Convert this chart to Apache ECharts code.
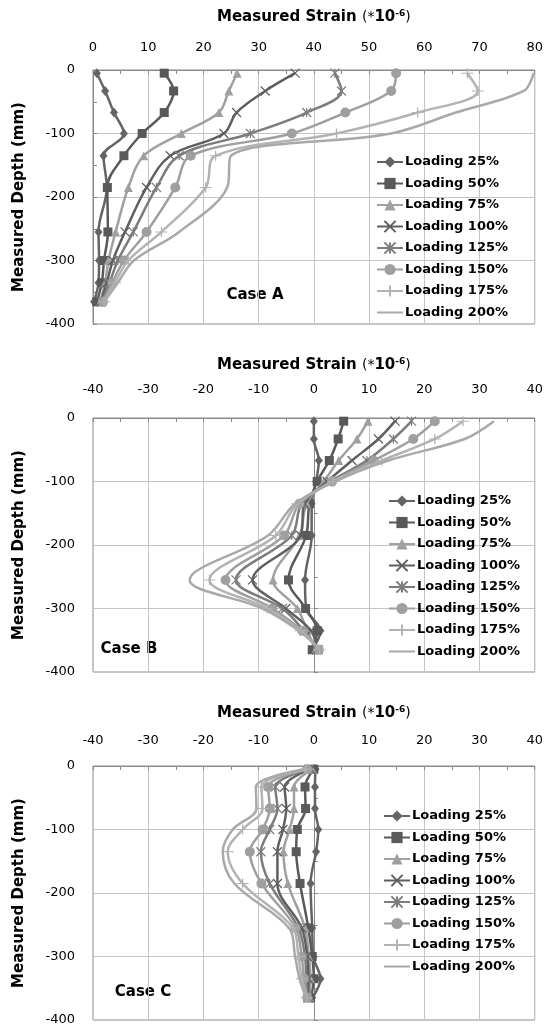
<!DOCTYPE html>
<html>
<head>
<meta charset="utf-8">
<script src="https://cdn.jsdelivr.net/npm/echarts@6.0.0/dist/echarts.min.js"></script>
<style>
html, body { margin: 0; padding: 0; background: #fff; }
#chart { width: 546px; height: 1027px; }
</style>
</head>
<body>
<div id="chart"></div>
<script>
var myChart = echarts.init(document.getElementById('chart'));

// depths of the gauges (mm)
var depths = [-5, -33, -67, -100, -135, -185, -255, -300, -335, -365];
var loadings = ['Loading 25%', 'Loading 50%', 'Loading 75%', 'Loading 100%',
                'Loading 125%', 'Loading 150%', 'Loading 175%', 'Loading 200%'];

// Case A strains (*10^-6)
var a25  = [0.7, 2.2, 3.8, 5.6, 1.9, 2.5, 1.0, 1.1, 1.0, 0.2];
var a50  = [12.9, 14.6, 12.9, 8.9, 5.6, 2.6, 2.7, 2.0, 1.6, 0.7];
var a75  = [26.1, 24.6, 22.8, 16.0, 9.2, 6.4, 4.1, 2.8, 2.2, 1.3];
var a100 = [36.6, 31.2, 26.0, 23.7, 14.0, 9.7, 5.8, 3.6, 2.5, 1.4];
var a125 = [43.8, 45.0, 38.7, 28.5, 15.6, 11.5, 7.3, 4.5, 3.0, 1.6];
var a150 = [54.9, 54.0, 45.7, 36.0, 17.7, 14.9, 9.7, 5.6, 3.5, 1.8];
var a175 = [67.8, 69.7, 58.8, 44.1, 22.2, 20.4, 12.4, 6.4, 4.0, 2.0];
var a200 = [79.8, 78.0, 65.7, 54.0, 25.0, 24.3, 15.6, 7.4, 4.5, 2.0];

// Case B
var b25  = [0.0, 0.0, 0.9, 0.4, -0.4, -0.4, -1.6, -1.4, 1.2, -0.3];
var b50  = [5.4, 4.4, 2.8, 0.6, -0.8, -1.4, -4.6, -1.5, 0.6, -0.3];
var b75  = [9.8, 7.8, 4.5, 1.8, -1.3, -2.6, -7.4, -3.0, -1.2, 0.3];
var b100 = [14.7, 11.7, 6.9, 2.4, -1.7, -2.4, -11.1, -5.1, -0.5, 0.5];
var b125 = [17.7, 14.4, 9.6, 3.0, -2.2, -4.0, -14.1, -5.7, -1.8, 0.8];
var b150 = [21.9, 18.0, 10.8, 3.3, -2.6, -5.4, -16.0, -7.5, -2.1, 0.9];
var b175 = [27.0, 21.9, 12.3, 3.5, -3.0, -6.9, -18.9, -8.4, -2.4, 1.0];
var b200 = [32.6, 27.3, 13.5, 3.8, -3.4, -8.3, -22.5, -9.3, -2.7, 1.1];

// Case C
var c25  = [0.3, 0.2, 0.2, 0.8, 0.4, -0.6, -0.3, -0.1, 1.2, -0.3];
var c50  = [0.0, -1.6, -1.5, -3.0, -3.2, -2.5, -1.0, -0.3, 0.0, -0.6];
var c75  = [-0.3, -3.6, -3.6, -4.4, -5.5, -4.7, -1.6, -0.9, -0.6, -0.8];
var c100 = [-0.6, -5.3, -5.0, -5.6, -6.6, -6.6, -2.2, -1.2, -1.0, -1.0];
var c125 = [-0.9, -7.0, -6.6, -8.0, -9.6, -8.0, -2.8, -1.6, -1.4, -1.1];
var c150 = [-1.2, -8.3, -8.0, -9.3, -11.6, -9.5, -3.3, -2.2, -1.8, -1.2];
var c175 = [-1.5, -9.5, -9.3, -12.9, -15.6, -12.9, -3.8, -2.8, -2.2, -1.3];
var c200 = [-1.8, -10.5, -10.4, -14.7, -16.5, -14.4, -4.5, -3.4, -2.6, -1.4];

var caseA = [a25, a50, a75, a100, a125, a150, a175, a200];
var caseB = [b25, b50, b75, b100, b125, b150, b175, b200];
var caseC = [c25, c50, c75, c100, c125, c150, c175, c200];

var font = 'DejaVu Sans';
var colors = ['#646464', '#595959', '#a0a0a0', '#5f5f5f', '#7c7c7c', '#9f9f9f', '#b3b3b3', '#a9a9a9'];
var symbols = ['diamond', 'rect', 'triangle',
    'path://M0,0L10,10M10,0L0,10',
    'path://M0,0L10,10M10,0L0,10M5,0L5,10',
    'circle',
    'path://M0,5L10,5M5,0L5,10',
    'circle'];   // 200%: marker hidden
var sizes = [[8, 10], 9, 9, 9, 9, 10, [12, 10], 4];
var strokeOnly = [false, false, false, true, true, false, true, false];

var tops = [70, 418, 766];
var xRange = [[0, 80], [-40, 40], [-40, 40]];
var labelMargin = [16, 22, 19];
var legendLeft = [371, 383, 378];
var legendTop = [150, 489, 804];

function pairs(xs) {
    return xs.map(function (x, i) { return [x, depths[i]]; });
}

var grids = [], xAxes = [], yAxes = [], legends = [], series = [];
[caseA, caseB, caseC].forEach(function (cs, k) {
    grids.push({left: 93, width: 444, top: tops[k], height: 254,
        show: true, borderColor: '#8a8a8a', borderWidth: 1, backgroundColor: '#fff'});
    xAxes.push({
        type: 'value', gridIndex: k, position: 'top',
        min: xRange[k][0], max: xRange[k][1], interval: 10,
        name: '{b|Measured Strain }{n|(*}{b|10}{s|-6}{n|)}',
        nameLocation: 'middle', nameGap: 44,
        nameTextStyle: {rich: {
            b: {fontSize: 15, fontWeight: 'bold', fontFamily: font, color: '#000'},
            n: {fontSize: 14, fontFamily: font, color: '#000'},
            s: {fontSize: 9, fontWeight: 'bold', fontFamily: font, color: '#000', padding: [0, 0, 8, 0]}
        }},
        axisLine: {show: true, lineStyle: {color: '#8a8a8a'}},
        axisTick: {show: true, inside: true, length: 4, lineStyle: {color: '#8a8a8a'}},
        minorTick: {show: true, splitNumber: 2, length: 4, lineStyle: {color: '#8a8a8a'}},
        axisLabel: {fontSize: 13, color: '#000', fontFamily: font, margin: labelMargin[k]},
        splitLine: {show: true, lineStyle: {color: '#c4c4c4', width: 1}}
    });
    yAxes.push({
        type: 'value', gridIndex: k, min: -400, max: 0, interval: 100,
        name: 'Measured Depth (mm)', nameLocation: 'middle', nameRotate: 90, nameGap: 66,
        nameTextStyle: {fontSize: 15, fontWeight: 'bold', fontFamily: font, color: '#000'},
        axisLine: {show: true, lineStyle: {color: '#8a8a8a'}},
        axisTick: {show: true, inside: true, length: 4, lineStyle: {color: '#8a8a8a'}},
        minorTick: {show: true, splitNumber: 2, length: 4, lineStyle: {color: '#8a8a8a'}},
        axisLabel: {fontSize: 13, color: '#000', fontFamily: font, margin: 18},
        splitLine: {show: true, lineStyle: {color: '#c4c4c4', width: 1}}
    });
    legends.push({
        orient: 'vertical', left: legendLeft[k], top: legendTop[k],
        itemWidth: 26, itemHeight: 14, itemGap: 7.5,
        textStyle: {fontSize: 13, fontWeight: 'bold', fontFamily: font, color: '#000', lineHeight: 14, padding: [0, 0, 0, -3]},
        data: loadings
    });
    cs.forEach(function (vals, i) {
        series.push({
            name: loadings[i], type: 'line', xAxisIndex: k, yAxisIndex: k,
            data: pairs(vals), smooth: 0.35,
            symbol: symbols[i], symbolSize: sizes[i], showSymbol: i !== 7,
            lineStyle: {color: colors[i], width: 2.5},
            itemStyle: i === 7
                ? {color: 'rgba(0,0,0,0)', borderWidth: 0}
                : {color: colors[i], borderColor: colors[i], borderWidth: strokeOnly[i] ? 1.2 : 0},
            emphasis: {disabled: true},
            z: 2 + i
        });
    });
});

var option = {
    animation: false,
    backgroundColor: '#fff',
    grid: grids,
    xAxis: xAxes,
    yAxis: yAxes,
    legend: legends,
    graphic: [
        {type: 'text', x: 255, y: 295, style: {text: 'Case A', font: 'bold 15px ' + font, fill: '#000', textAlign: 'center', textVerticalAlign: 'middle'}},
        {type: 'text', x: 129, y: 649, style: {text: 'Case B', font: 'bold 15px ' + font, fill: '#000', textAlign: 'center', textVerticalAlign: 'middle'}},
        {type: 'text', x: 143, y: 992, style: {text: 'Case C', font: 'bold 15px ' + font, fill: '#000', textAlign: 'center', textVerticalAlign: 'middle'}}
    ],
    series: series
};
myChart.setOption(option);
</script>
</body>
</html>
